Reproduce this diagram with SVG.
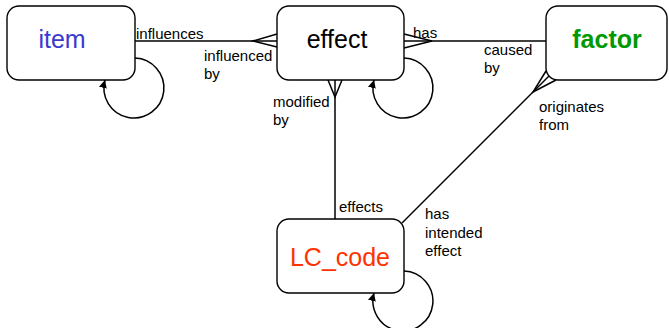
<svg xmlns="http://www.w3.org/2000/svg" width="669" height="328" viewBox="0 0 669 328">
<style>
.box{fill:#fff;stroke:#000;stroke-width:1.4}
.node{font-family:"Liberation Sans",Arial,sans-serif;font-size:25px;text-anchor:middle}
.lbl{font-family:"Liberation Sans",Arial,sans-serif;font-size:15px;fill:#000}
.ln{fill:none;stroke:#000;stroke-width:1.5}
</style>
<defs>
<marker id="ah" viewBox="0 0 10 10" refX="10" refY="5" markerWidth="8" markerHeight="8" markerUnits="userSpaceOnUse" orient="auto">
<path d="M0,0 L10,5 L0,10 z" fill="#000"/>
</marker>
</defs>
<g id="connectors">
<path class="ln" d="M135,41 H277" stroke-width="2"/>
<path class="ln" d="M277,34 L253,41 L277,47"/>
<path class="ln" d="M404,41 H546"/>
<path class="ln" d="M404,34 L432,41 L404,48"/>
<path class="ln" d="M335,80 V219"/>
<path class="ln" d="M328,80 L335,97 L342,80"/>
<path class="ln" d="M402,223 L549,76"/>
<path class="ln" d="M546,71 L533,92 L556,80"/>
<path class="ln" d="M135,58 A30,30 0 1 1 105,80" marker-end="url(#ah)"/>
<path class="ln" d="M404,58 A30,30 0 1 1 374,80" marker-end="url(#ah)"/>
<path class="ln" d="M404,271 A30,30 0 1 1 374,293" marker-end="url(#ah)"/>
<text class="lbl" x="136" y="39">influences</text>
<text class="lbl" x="204" y="61">influenced</text>
<text class="lbl" x="204" y="79">by</text>
<text class="lbl" x="413" y="38">has</text>
<text class="lbl" x="484" y="55">caused</text>
<text class="lbl" x="484" y="73">by</text>
<text class="lbl" x="273" y="107">modified</text>
<text class="lbl" x="273" y="125">by</text>
<text class="lbl" x="539" y="112">originates</text>
<text class="lbl" x="539" y="130">from</text>
<text class="lbl" x="339" y="212">effects</text>
<text class="lbl" x="425" y="219">has</text>
<text class="lbl" x="425" y="238">intended</text>
<text class="lbl" x="425" y="256">effect</text>
</g>
<g id="item">
<rect class="box" x="7" y="6" width="128" height="74" rx="12"/>
<text class="node" x="62" y="48" fill="#3a3ad0">item</text>
</g>
<g id="effect">
<rect class="box" x="277" y="6" width="127" height="74" rx="12"/>
<text class="node" x="337" y="48" fill="#000">effect</text>
</g>
<g id="factor">
<rect class="box" x="546" y="6" width="121" height="74" rx="12"/>
<text class="node" x="607" y="48" fill="#009900" font-weight="bold" font-size="24">factor</text>
</g>
<g id="LC_code">
<rect class="box" x="277" y="219" width="127" height="74" rx="12"/>
<text class="node" x="340" y="266" fill="#ff3300">LC_code</text>
</g>
</svg>
